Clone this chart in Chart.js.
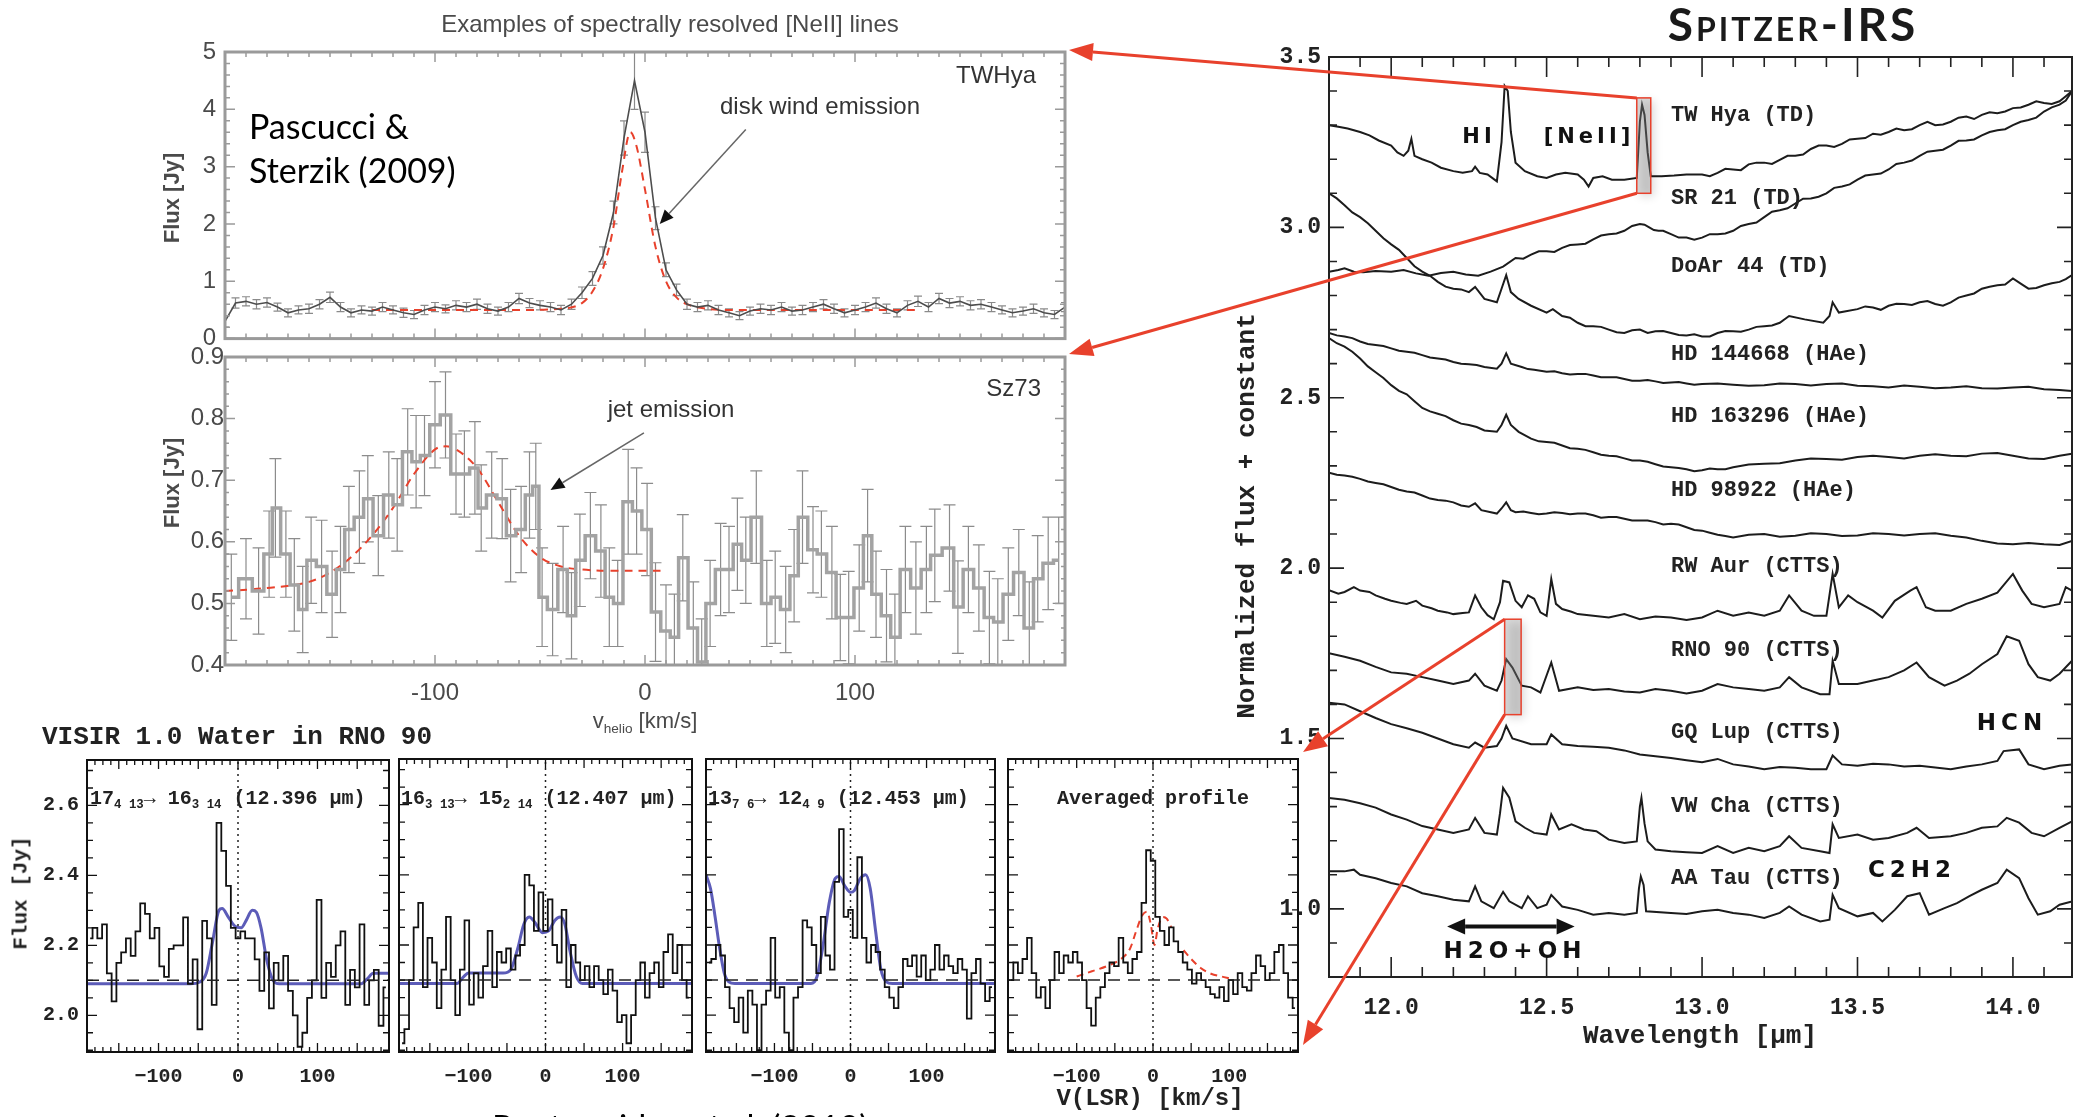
<!DOCTYPE html>
<html>
<head>
<meta charset="utf-8">
<script src="https://cdn.jsdelivr.net/npm/chart.js@4.4.0/dist/chart.umd.min.js"></script>
<style>
  html, body { margin: 0; padding: 0; background: #fff; }
  body { position: relative; width: 2074px; height: 1117px; overflow: hidden; }
  canvas { position: absolute; }
  .t { position: absolute; white-space: nowrap; line-height: 1; z-index: 3; }
  .gray { font-family: "Liberation Sans", Arial, sans-serif; color: #4a4a4a; }
  .mono { font-family: "Liberation Mono", monospace; color: #222; font-weight: bold; }
  .gill { font-family: Lato, sans-serif; color: #000; }
  .mol { font-family: "DejaVu Sans", sans-serif; font-weight: bold; color: #111; }
  .rot { transform: translate(-50%, -50%) rotate(-90deg); }
  .c { transform: translate(-50%, -50%); }
  .l { transform: translate(0, -50%); }
  .r { transform: translate(-100%, -50%); }
  sub { font-size: 62%; vertical-align: -0.35em; line-height: 0; }
</style>
</head>
<body>
<canvas id="cTw" width="1080" height="362" style="left:0;top:0"></canvas>
<canvas id="cSz" width="1080" height="420" style="left:0;top:330px"></canvas>
<canvas id="cV1" width="395" height="377" style="left:0;top:740px"></canvas>
<canvas id="cV2" width="300" height="377" style="left:395px;top:740px"></canvas>
<canvas id="cV3" width="300" height="377" style="left:700px;top:740px"></canvas>
<canvas id="cV4" width="300" height="377" style="left:1003px;top:740px"></canvas>
<canvas id="cSp" width="874" height="1117" style="left:1200px;top:0"></canvas>
<canvas id="overlay" width="2074" height="1117" style="left:0;top:0;z-index:5;pointer-events:none"></canvas>

<!-- [NeII] panels -->
<div class="t gray c" style="left:670px;top:24px;font-size:24px">Examples of spectrally resolved [NeII] lines</div>
<div class="t gray r" style="left:1036px;top:75px;font-size:24px;color:#333">TWHya</div>
<div class="t gray c" style="left:820px;top:106px;font-size:24px;color:#333">disk wind emission</div>
<div class="t gray r" style="left:1041px;top:388px;font-size:24px;color:#333">Sz73</div>
<div class="t gray c" style="left:671px;top:409px;font-size:24px;color:#333">jet emission</div>
<div class="t gill l" style="left:249px;top:126px;font-size:34px">Pascucci &amp;</div>
<div class="t gill l" style="left:249px;top:170px;font-size:34px">Sterzik (2009)</div>
<div class="t gray rot" style="left:172px;top:198px;font-size:22px;font-weight:bold">Flux [Jy]</div>
<div class="t gray rot" style="left:172px;top:483px;font-size:22px;font-weight:bold">Flux [Jy]</div>
<div class="t gray c" style="left:645px;top:721px;font-size:22px">v<sub>helio</sub> [km/s]</div>

<!-- VISIR panels -->
<div class="t mono l" style="left:42px;top:737px;font-size:26px">VISIR 1.0 Water in RNO 90</div>
<div class="t mono l" style="left:90px;top:799px;font-size:20px">17<sub>4 13</sub>→ 16<sub>3 14</sub> (12.396 μm)</div>
<div class="t mono l" style="left:401px;top:799px;font-size:20px">16<sub>3 13</sub>→ 15<sub>2 14</sub> (12.407 μm)</div>
<div class="t mono l" style="left:708px;top:799px;font-size:20px">13<sub>7 6</sub>→ 12<sub>4 9</sub> (12.453 μm)</div>
<div class="t mono c" style="left:1153px;top:799px;font-size:20px">Averaged profile</div>
<div class="t mono rot" style="left:21px;top:893px;font-size:21px">Flux [Jy]</div>
<div class="t mono c" style="left:1150px;top:1099px;font-size:24px">V(LSR) [km/s]</div>
<div class="t gill" style="left:492px;top:1110px;font-size:34px;line-height:34px">Pontoppidan et al. (2010)</div>

<!-- Spitzer panel -->
<div class="t gill c" style="left:1793px;top:24px;font-size:46px;font-weight:bold;font-variant:small-caps;letter-spacing:3px;color:#1a1a1a">Spitzer-IRS</div>
<div class="t mono l" style="left:1671px;top:116px;font-size:22px">TW Hya (TD)</div>
<div class="t mono l" style="left:1671px;top:199px;font-size:22px">SR 21 (TD)</div>
<div class="t mono l" style="left:1671px;top:267px;font-size:22px">DoAr 44 (TD)</div>
<div class="t mono l" style="left:1671px;top:355px;font-size:22px">HD 144668 (HAe)</div>
<div class="t mono l" style="left:1671px;top:417px;font-size:22px">HD 163296 (HAe)</div>
<div class="t mono l" style="left:1671px;top:491px;font-size:22px">HD 98922 (HAe)</div>
<div class="t mono l" style="left:1671px;top:567px;font-size:22px">RW Aur (CTTS)</div>
<div class="t mono l" style="left:1671px;top:651px;font-size:22px">RNO 90 (CTTS)</div>
<div class="t mono l" style="left:1671px;top:733px;font-size:22px">GQ Lup (CTTS)</div>
<div class="t mono l" style="left:1671px;top:807px;font-size:22px">VW Cha (CTTS)</div>
<div class="t mono l" style="left:1671px;top:879px;font-size:22px">AA Tau (CTTS)</div>
<div class="t mol c" style="left:1479px;top:136px;font-size:21px;letter-spacing:4px">HI</div>
<div class="t mol c" style="left:1589px;top:136px;font-size:21px;letter-spacing:4px">[NeII]</div>
<div class="t mol c" style="left:2012px;top:722px;font-size:23px;letter-spacing:5px">HCN</div>
<div class="t mol c" style="left:1912px;top:869px;font-size:23px;letter-spacing:5px">C2H2</div>
<div class="t mol c" style="left:1515px;top:950px;font-size:23px;letter-spacing:5px">H2O+OH</div>
<div class="t mono c" style="left:1700px;top:1036px;font-size:26px">Wavelength [μm]</div>
<div class="t mono rot" style="left:1247px;top:516px;font-size:26px">Normalized flux + constant</div>

<script>
// ---------- [NeII] line profiles (velocity km/s, flux Jy, error Jy) ----------
const twHyaData = [
  [-200,0.30,0.10],[-195,0.62,0.09],[-190,0.65,0.08],[-185,0.60,0.08],[-180,0.63,0.08],[-175,0.55,0.07],
  [-170,0.45,0.07],[-165,0.50,0.07],[-160,0.52,0.08],[-155,0.60,0.08],[-150,0.72,0.09],[-145,0.55,0.08],
  [-140,0.45,0.07],[-135,0.50,0.07],[-130,0.48,0.07],[-125,0.55,0.08],[-120,0.50,0.07],[-115,0.45,0.08],
  [-110,0.42,0.07],[-105,0.50,0.08],[-100,0.55,0.08],[-95,0.52,0.07],[-90,0.58,0.08],[-85,0.55,0.08],
  [-80,0.60,0.09],[-75,0.52,0.08],[-70,0.48,0.07],[-65,0.55,0.08],[-60,0.70,0.09],[-55,0.62,0.08],
  [-50,0.58,0.08],[-45,0.55,0.08],[-40,0.50,0.08],[-35,0.60,0.09],[-30,0.80,0.10],[-25,1.05,0.12],
  [-20,1.45,0.15],[-15,2.20,0.20],[-10,3.50,0.30],[-5,4.50,0.50],[0,3.60,0.35],[5,2.10,0.20],
  [10,1.20,0.12],[15,0.85,0.10],[20,0.60,0.09],[25,0.55,0.08],[30,0.58,0.08],[35,0.50,0.08],
  [40,0.45,0.07],[45,0.40,0.07],[50,0.48,0.07],[55,0.52,0.08],[60,0.50,0.08],[65,0.55,0.08],
  [70,0.48,0.07],[75,0.50,0.08],[80,0.55,0.08],[85,0.60,0.08],[90,0.52,0.08],[95,0.45,0.07],
  [100,0.50,0.08],[105,0.55,0.08],[110,0.62,0.09],[115,0.52,0.08],[120,0.45,0.07],[125,0.58,0.08],
  [130,0.65,0.09],[135,0.55,0.08],[140,0.70,0.09],[145,0.62,0.08],[150,0.65,0.08],[155,0.58,0.08],
  [160,0.60,0.08],[165,0.55,0.08],[170,0.50,0.07],[175,0.45,0.07],[180,0.48,0.07],[185,0.52,0.08],
  [190,0.45,0.07],[195,0.42,0.07],[200,0.55,0.08]
];
const twHyaFit = [
  [-130,0.50],[-100,0.50],[-60,0.50],[-40,0.52],[-30,0.62],[-25,0.82],[-20,1.22],[-15,1.95],[-11,2.90],
  [-7,3.60],[-4,3.35],[0,2.60],[5,1.60],[10,1.00],[15,0.72],[20,0.60],[30,0.52],[40,0.50],[60,0.50],
  [100,0.50],[130,0.50]
];
const sz73Data = [
  [-197,0.51,0.07],[-190,0.54,0.065],[-184,0.52,0.07],[-179,0.58,0.07],[-176,0.655,0.08],[-171,0.58,0.07],
  [-167,0.53,0.075],[-163,0.49,0.07],[-159,0.57,0.07],[-154,0.56,0.075],[-149,0.515,0.07],[-145,0.555,0.07],
  [-141,0.62,0.07],[-136,0.64,0.075],[-132,0.67,0.07],[-127,0.61,0.065],[-122,0.676,0.07],[-118,0.66,0.075],
  [-113,0.746,0.07],[-109,0.73,0.075],[-105,0.74,0.065],[-100,0.79,0.07],[-95,0.806,0.07],[-90,0.71,0.065],
  [-86,0.71,0.07],[-81,0.72,0.075],[-78,0.655,0.07],[-73,0.676,0.07],[-68,0.67,0.065],[-64,0.61,0.075],
  [-59,0.62,0.07],[-55,0.676,0.07],[-52,0.69,0.07],[-49,0.51,0.08],[-44,0.49,0.075],[-39,0.555,0.07],
  [-35,0.48,0.07],[-31,0.57,0.075],[-26,0.61,0.07],[-21,0.585,0.075],[-17,0.51,0.08],[-13,0.50,0.07],
  [-8,0.665,0.085],[-4,0.65,0.07],[1,0.62,0.075],[5,0.486,0.08],[10,0.455,0.075],[14,0.445,0.07],
  [18,0.574,0.07],[23,0.46,0.075],[27,0.405,0.07],[31,0.50,0.07],[36,0.555,0.075],[40,0.555,0.07],
  [44,0.596,0.075],[48,0.57,0.07],[53,0.64,0.075],[58,0.50,0.07],[62,0.51,0.075],[67,0.49,0.07],
  [71,0.545,0.075],[75,0.64,0.075],[80,0.587,0.07],[84,0.58,0.07],[89,0.55,0.075],[93,0.477,0.07],
  [97,0.477,0.075],[102,0.525,0.07],[106,0.61,0.075],[110,0.515,0.07],[115,0.48,0.075],[119,0.445,0.07],
  [124,0.555,0.07],[129,0.525,0.075],[134,0.555,0.07],[138,0.578,0.075],[145,0.59,0.07],[149,0.494,0.075],
  [154,0.555,0.07],[159,0.525,0.07],[164,0.477,0.075],[168,0.47,0.07],[173,0.515,0.075],[178,0.55,0.07],
  [183,0.46,0.075],[187,0.54,0.07],[192,0.565,0.075],[197,0.57,0.07]
];
const sz73Fit = [
  [-200,0.52],[-180,0.525],[-160,0.535],[-150,0.55],[-140,0.575],[-130,0.61],[-120,0.655],[-110,0.71],
  [-100,0.75],[-95,0.755],[-90,0.75],[-80,0.72],[-70,0.665],[-60,0.61],[-50,0.575],[-40,0.56],
  [-30,0.555],[-10,0.553],[10,0.553]
];

// ---------- VISIR water lines in RNO 90 ----------
const visirVel = [
  -186,-180,-174,-168,-162,-156,-150,-144,-138,-132,-126,-120,-114,-108,-102,-96,-90,-84,-78,-72,-66,
  -60,-54,-48,-42,-36,-30,-24,-18,-12,-6,0,6,12,18,24,30,36,42,48,54,60,66,72,78,84,90,96,102,108,
  114,120,126,132,138,144,150,156,162,168,174,180,186
];
const visirLine1 = [
  2.22,2.25,2.22,2.26,2.12,2.04,2.15,2.18,2.22,2.17, 2.24,2.32,2.29,2.22,2.25,2.14,2.11,2.19,2.20,2.20,
  2.28,2.09,2.16,1.96,2.27,2.22,2.03,2.55,2.47,2.37, 2.25,2.22,2.24,2.22,2.22,2.16,2.07,2.18,2.02,2.15,
  2.10,2.17,2.07,2.00,1.91,1.95,2.05,2.10,2.33,2.05, 2.15,2.11,2.20,2.24,2.03,2.13,2.08,2.26,2.03,2.10,
  2.13,1.97,2.08
];
const visirLine2 = [
  1.92,1.96,2.10,2.25,2.32,2.08,2.22,2.15,2.02,2.13, 2.28,2.10,2.00,2.13,2.27,2.03,2.12,2.05,2.14,2.24,
  2.08,2.18,2.15,2.19,2.13,2.17,2.20,2.40,2.37,2.24, 2.35,2.24,2.33,2.20,2.15,2.30,2.08,2.20,2.15,2.10,
  2.14,2.08,2.14,2.10,2.06,2.13,2.07,1.98,2.00,1.92, 2.00,2.10,2.15,2.05,2.12,2.15,2.08,2.18,2.23,2.12,
  2.20,2.10,2.05
];
const visirLine3 = [
  2.15,2.16,2.20,2.17,2.08,2.02,1.98,2.05,1.95,2.07, 2.03,1.90,2.03,2.07,2.22,2.05,2.08,1.95,1.90,2.05,
  2.08,2.27,2.25,2.20,2.12,2.28,2.17,2.13,2.38,2.53, 2.28,2.30,2.22,2.45,2.22,2.15,2.20,2.18,2.13,2.08,
  2.05,2.02,2.08,2.16,2.14,2.17,2.11,2.17,2.10,2.13, 2.20,2.13,2.17,2.14,2.12,2.16,2.13,1.99,2.12,2.16,
  2.09,2.04,2.08
];
const visirAverage = [
  2.10,2.15,2.12,2.16,2.22,2.12,2.05,2.08,2.02,2.10, 2.18,2.12,2.17,2.15,2.18,2.15,2.10,2.02,1.97,2.05,
  2.08,2.12,2.15,2.14,2.22,2.15,2.12,2.16,2.18,2.32, 2.47,2.44,2.28,2.24,2.20,2.25,2.21,2.18,2.15,2.13,
  2.09,2.12,2.10,2.08,2.06,2.05,2.08,2.04,2.10,2.06, 2.12,2.08,2.07,2.12,2.17,2.14,2.10,2.12,2.18,2.20,
  2.12,2.05,2.02
];
const diskModel1 = [
  [-190,2.09],[-60,2.09],[-48,2.095],[-40,2.12],[-32,2.21],[-24,2.30],[-20,2.305],[-12,2.28],[-4,2.255],
  [4,2.25],[10,2.27],[18,2.30],[23,2.295],[29,2.25],[36,2.16],[44,2.10],[52,2.09],[155,2.09],[163,2.105],
  [170,2.12],[190,2.12]
];
const diskModel2 = [
  [-190,2.09],[-115,2.09],[-106,2.11],[-100,2.12],[-55,2.12],[-45,2.13],[-36,2.19],[-28,2.26],[-21,2.28],
  [-14,2.265],[-4,2.235],[4,2.24],[12,2.27],[19,2.28],[25,2.26],[32,2.18],[40,2.11],[48,2.09],[190,2.09]
];
const diskModel3 = [
  [-190,2.40],[-184,2.36],[-178,2.28],[-172,2.19],[-166,2.12],[-160,2.095],[-152,2.09],[-52,2.09],
  [-44,2.11],[-36,2.20],[-28,2.32],[-20,2.39],[-15,2.395],[-8,2.37],[0,2.35],[5,2.355],[13,2.39],
  [20,2.40],[26,2.36],[33,2.24],[40,2.13],[47,2.095],[55,2.09],[190,2.09]
];
// averaged-profile model, drawn as two separate pieces
const averageModelCore = [
  [-100,2.11],[-80,2.125],[-60,2.14],[-42,2.16],[-30,2.19],[-22,2.24],[-14,2.285],[-8,2.295],[-3,2.26],
  [2,2.20],[6,2.245],[13,2.28],[18,2.275],[24,2.25]
];
const averageModelWing = [[40,2.185],[50,2.16],[62,2.135],[76,2.118],[90,2.11],[100,2.105]];
const visirContinuum = 2.1;

// ---------- Spitzer-IRS spectra (wavelength um, normalized flux + constant) ----------
const twHya = [
  [11.80,3.30],[11.83,3.295],[11.86,3.29],[11.90,3.28],[11.93,3.27],[11.96,3.255],[12.00,3.24],[12.02,3.22],
  [12.04,3.21],[12.055,3.225],[12.065,3.26],[12.075,3.21],[12.10,3.20],[12.13,3.19],[12.16,3.175],[12.20,3.165],
  [12.23,3.16],[12.26,3.165],[12.27,3.178],[12.285,3.16],[12.31,3.155],[12.34,3.135],[12.355,3.25],[12.365,3.415],
  [12.375,3.40],[12.385,3.28],[12.40,3.19],[12.43,3.165],[12.47,3.15],[12.50,3.145],[12.53,3.155],[12.56,3.16],
  [12.60,3.155],[12.62,3.14],[12.635,3.12],[12.65,3.145],[12.68,3.15],[12.71,3.14],[12.75,3.14],[12.79,3.145],
  [12.80,3.31],[12.807,3.36],[12.815,3.33],[12.825,3.22],[12.835,3.15],[12.87,3.15],[12.91,3.152],[12.95,3.155],
  [13.00,3.155],[13.05,3.16],[13.10,3.17],[13.15,3.185],[13.20,3.19],[13.25,3.198],[13.30,3.21],[13.35,3.23],
  [13.40,3.24],[13.45,3.245],[13.50,3.26],[13.55,3.275],[13.60,3.28],[13.65,3.285],[13.70,3.30],[13.75,3.30],
  [13.80,3.31],[13.85,3.325],[13.90,3.33],[13.95,3.335],[14.00,3.35],[14.05,3.36],[14.10,3.365],[14.15,3.37],
  [14.19,3.40]
];
const twHyaRipple = [
  [13.025,3.150],[13.075,3.172],[13.125,3.168],[13.175,3.190],[13.225,3.186],[13.275,3.210],[13.325,3.214],
  [13.375,3.240],[13.425,3.236],[13.475,3.258],[13.525,3.262],[13.575,3.272],[13.625,3.290],[13.675,3.288],
  [13.725,3.310],[13.775,3.302],[13.825,3.322],[13.875,3.318],[13.925,3.338],[13.975,3.340],[14.025,3.352],
  [14.075,3.370],[14.125,3.362],[14.17,3.385]
];
const sr21 = [
  [11.80,2.87],[11.83,2.875],[11.85,2.88],[11.88,2.87],[11.91,2.868],[11.95,2.872],[12.00,2.87],[12.04,2.875],
  [12.08,2.865],[12.12,2.858],[12.16,2.866],[12.20,2.87],[12.24,2.862],[12.28,2.858],[12.32,2.87],[12.36,2.885],
  [12.40,2.91],[12.45,2.92],[12.50,2.93],[12.55,2.94],[12.60,2.95],[12.65,2.965],[12.70,2.98],[12.75,2.99],
  [12.80,3.01],[12.83,3.00],[12.86,2.99],[12.90,2.98],[12.95,2.97],[13.00,2.97],[13.05,2.98],[13.10,2.99],
  [13.15,3.01],[13.20,3.03],[13.25,3.05],[13.30,3.07],[13.35,3.085],[13.40,3.10],[13.45,3.12],[13.50,3.14],
  [13.55,3.155],[13.60,3.17],[13.65,3.19],[13.70,3.21],[13.75,3.225],[13.80,3.24],[13.85,3.255],[13.90,3.27],
  [13.95,3.285],[14.00,3.30],[14.05,3.315],[14.10,3.34],[14.15,3.36],[14.19,3.40]
];
const sr21Ripple = [
  [12.425,2.908],[12.475,2.930],[12.525,2.928],[12.575,2.948],[12.625,2.952],[12.675,2.976],[12.725,2.982],
  [12.775,3.004],[12.815,3.008],[12.845,2.992],[12.875,2.990],[12.925,2.970],[12.975,2.964],[13.025,2.980],
  [13.075,2.982],[13.125,3.004],[13.175,3.014],[13.225,3.046],[13.275,3.056],[13.325,3.084],[13.375,3.090],
  [13.425,3.116],[13.475,3.126],[13.525,3.152],[13.575,3.158],[13.625,3.186],[13.675,3.196],[13.725,3.222],
  [13.775,3.228],[13.825,3.254],[13.875,3.258],[13.925,3.280],[13.975,3.288],[14.025,3.310],[14.075,3.322],
  [14.125,3.352],[14.17,3.372]
];
const doAr44 = [
  [11.80,3.10],[11.85,3.065],[11.90,3.03],[11.95,2.99],[12.00,2.95],[12.05,2.91],[12.10,2.87],[12.15,2.84],
  [12.20,2.82],[12.25,2.81],[12.27,2.825],[12.30,2.79],[12.34,2.78],[12.355,2.82],[12.37,2.86],[12.385,2.81],
  [12.41,2.79],[12.45,2.77],[12.50,2.75],[12.52,2.76],[12.55,2.74],[12.60,2.72],[12.65,2.71],[12.70,2.70],
  [12.75,2.69],[12.80,2.70],[12.85,2.695],[12.90,2.69],[12.95,2.683],[13.00,2.68],[13.05,2.69],[13.10,2.695],
  [13.15,2.70],[13.20,2.71],[13.25,2.72],[13.28,2.74],[13.33,2.73],[13.39,2.72],[13.41,2.74],[13.42,2.78],
  [13.44,2.75],[13.50,2.76],[13.55,2.765],[13.60,2.77],[13.65,2.775],[13.70,2.78],[13.75,2.775],[13.80,2.78],
  [13.85,2.80],[13.90,2.82],[13.95,2.83],[14.00,2.85],[14.05,2.82],[14.10,2.83],[14.15,2.84],[14.19,2.86]
];
const doAr44Ripple = [
  [11.825,3.085],[11.875,3.044],[11.925,3.012],[11.975,2.968],[12.025,2.934],[12.075,2.886],[12.125,2.858],
  [12.175,2.826],[12.225,2.818],[12.575,2.735],[12.625,2.710],[12.675,2.708],[12.725,2.692],[12.775,2.698],
  [12.825,2.690],[12.875,2.696],[12.925,2.684],[12.975,2.686],[13.025,2.680],[13.075,2.696],[13.125,2.694],
  [13.175,2.708],[13.225,2.712],[13.525,2.768],[13.575,2.758],[13.625,2.776],[13.675,2.772],[13.725,2.784],
  [13.775,2.770],[13.825,2.794],[13.875,2.806],[13.925,2.826],[13.975,2.832],[14.025,2.835],[14.075,2.822],
  [14.125,2.836],[14.17,2.848]
];
const hd144668 = [
  [11.80,2.69],[11.85,2.68],[11.90,2.665],[11.95,2.655],[12.00,2.645],[12.05,2.635],[12.10,2.625],[12.15,2.615],
  [12.20,2.605],[12.25,2.598],[12.30,2.59],[12.34,2.585],[12.355,2.60],[12.37,2.63],[12.385,2.60],[12.42,2.59],
  [12.46,2.582],[12.50,2.576],[12.55,2.572],[12.60,2.57],[12.65,2.565],[12.70,2.56],[12.75,2.555],[12.80,2.55],
  [12.85,2.548],[12.90,2.545],[12.95,2.542],[13.00,2.54],[13.10,2.538],[13.20,2.537],[13.30,2.54],[13.40,2.54],
  [13.50,2.535],[13.60,2.53],[13.70,2.532],[13.80,2.53],[13.90,2.528],[14.00,2.53],[14.10,2.525],[14.19,2.52]
];
const hd144668Ripple = [
  [11.825,2.683],[11.875,2.675],[11.925,2.658],[11.975,2.652],[12.025,2.638],[12.075,2.632],[12.125,2.618],
  [12.175,2.612],[12.225,2.600],[12.275,2.596],[12.44,2.584],[12.525,2.578],[12.575,2.568],[12.625,2.570],
  [12.675,2.560],[12.725,2.560],[12.775,2.550],[12.825,2.552],[12.875,2.543],[12.925,2.546],[12.975,2.538],
  [13.05,2.542],[13.15,2.535],[13.25,2.542],[13.35,2.536],[13.45,2.542],[13.55,2.534],[13.65,2.536],
  [13.75,2.528],[13.85,2.534],[13.95,2.527],[14.05,2.532],[14.15,2.523]
];
const hd163296 = [
  [11.80,2.675],[11.85,2.65],[11.90,2.615],[11.95,2.575],[12.00,2.537],[12.05,2.51],[12.10,2.47],[12.15,2.453],
  [12.20,2.434],[12.25,2.42],[12.30,2.404],[12.34,2.40],[12.355,2.42],[12.37,2.45],[12.385,2.42],[12.41,2.40],
  [12.45,2.38],[12.50,2.37],[12.55,2.36],[12.60,2.35],[12.65,2.34],[12.70,2.33],[12.75,2.322],[12.80,2.316],
  [12.85,2.305],[12.90,2.296],[12.95,2.29],[13.00,2.287],[13.05,2.29],[13.10,2.296],[13.20,2.306],[13.30,2.316],
  [13.40,2.32],[13.50,2.326],[13.60,2.326],[13.70,2.33],[13.80,2.33],[13.90,2.336],[14.00,2.33],[14.10,2.32],
  [14.19,2.336]
];
const hd163296Ripple = [
  [11.825,2.660],[11.875,2.635],[11.925,2.592],[11.975,2.558],[12.025,2.520],[12.075,2.490],[12.125,2.460],
  [12.175,2.446],[12.225,2.424],[12.275,2.414],[12.475,2.372],[12.525,2.368],[12.575,2.352],[12.625,2.347],
  [12.675,2.333],[12.725,2.328],[12.775,2.316],[12.825,2.312],[12.875,2.298],[12.925,2.294],[12.975,2.284],
  [13.025,2.292],[13.075,2.290],[13.15,2.304],[13.25,2.308],[13.35,2.322],[13.45,2.318],[13.55,2.330],
  [13.65,2.322],[13.75,2.334],[13.85,2.328],[13.95,2.338],[14.05,2.322],[14.15,2.330]
];
const hd98922 = [
  [11.80,2.28],[11.85,2.272],[11.90,2.262],[11.95,2.25],[12.00,2.238],[12.05,2.225],[12.10,2.213],[12.15,2.20],
  [12.20,2.193],[12.25,2.18],[12.27,2.19],[12.29,2.17],[12.34,2.16],[12.355,2.175],[12.37,2.193],[12.385,2.17],
  [12.40,2.164],[12.45,2.162],[12.50,2.16],[12.55,2.162],[12.60,2.16],[12.65,2.155],[12.70,2.15],[12.75,2.145],
  [12.80,2.14],[12.85,2.135],[12.90,2.13],[12.95,2.12],[13.00,2.11],[13.05,2.098],[13.10,2.09],[13.20,2.10],
  [13.30,2.095],[13.40,2.10],[13.50,2.096],[13.60,2.10],[13.70,2.10],[13.80,2.095],[13.90,2.08],[14.00,2.07],
  [14.10,2.07],[14.19,2.08]
];
const hd98922Ripple = [
  [11.825,2.274],[11.875,2.268],[11.925,2.254],[11.975,2.246],[12.025,2.230],[12.075,2.222],[12.125,2.204],
  [12.175,2.198],[12.225,2.184],[12.425,2.166],[12.475,2.158],[12.525,2.164],[12.575,2.158],[12.625,2.160],
  [12.675,2.148],[12.725,2.150],[12.775,2.140],[12.825,2.140],[12.875,2.128],[12.925,2.128],[12.975,2.112],
  [13.025,2.104],[13.075,2.094],[13.15,2.098],[13.25,2.092],[13.35,2.102],[13.45,2.094],[13.55,2.102],
  [13.65,2.096],[13.75,2.102],[13.85,2.090],[13.95,2.072],[14.05,2.074],[14.15,2.068]
];
const rwAur = [
  [11.80,1.935],[11.83,1.925],[11.85,1.93],[11.88,1.944],[11.90,1.934],[11.93,1.93],[11.95,1.92],[11.98,1.91],
  [12.00,1.904],[12.03,1.898],[12.05,1.895],[12.08,1.904],[12.10,1.89],[12.13,1.882],[12.15,1.875],[12.18,1.87],
  [12.20,1.865],[12.23,1.868],[12.25,1.87],[12.27,1.92],[12.29,1.885],[12.31,1.862],[12.33,1.85],[12.35,1.90],
  [12.36,1.963],[12.38,1.958],[12.40,1.904],[12.42,1.885],[12.44,1.92],[12.46,1.91],[12.48,1.87],[12.50,1.86],
  [12.515,1.968],[12.53,1.895],[12.55,1.88],[12.58,1.872],[12.60,1.865],[12.65,1.86],[12.70,1.855],[12.75,1.865],
  [12.80,1.85],[12.85,1.858],[12.90,1.855],[12.95,1.848],[13.00,1.855],[13.05,1.875],[13.10,1.86],[13.15,1.87],
  [13.20,1.86],[13.25,1.875],[13.28,1.92],[13.32,1.875],[13.36,1.86],[13.40,1.86],[13.42,1.983],[13.44,1.885],
  [13.47,1.92],[13.50,1.90],[13.55,1.875],[13.58,1.855],[13.62,1.904],[13.67,1.934],[13.69,1.944],[13.72,1.885],
  [13.75,1.875],[13.80,1.875],[13.85,1.895],[13.90,1.91],[13.95,1.928],[14.00,1.983],[14.03,1.934],[14.06,1.895],
  [14.10,1.885],[14.15,1.895],[14.17,1.944],[14.19,1.934]
];
const rno90 = [
  [11.80,1.75],[11.85,1.74],[11.90,1.728],[11.95,1.71],[12.00,1.694],[12.05,1.69],[12.10,1.68],[12.15,1.67],
  [12.20,1.66],[12.25,1.67],[12.27,1.69],[12.30,1.655],[12.34,1.64],[12.355,1.67],[12.37,1.733],[12.39,1.708],
  [12.42,1.655],[12.45,1.65],[12.48,1.635],[12.515,1.723],[12.54,1.64],[12.60,1.65],[12.65,1.642],[12.70,1.645],
  [12.75,1.638],[12.80,1.635],[12.85,1.645],[12.90,1.64],[12.95,1.632],[13.00,1.64],[13.05,1.66],[13.10,1.65],
  [13.15,1.645],[13.20,1.64],[13.25,1.65],[13.28,1.68],[13.32,1.65],[13.38,1.63],[13.41,1.63],[13.42,1.728],
  [13.44,1.66],[13.50,1.66],[13.55,1.67],[13.60,1.68],[13.65,1.70],[13.69,1.723],[13.73,1.68],[13.78,1.655],
  [13.82,1.67],[13.86,1.69],[13.90,1.718],[13.95,1.748],[13.98,1.80],[14.02,1.787],[14.05,1.718],[14.08,1.68],
  [14.12,1.67],[14.15,1.69],[14.19,1.728]
];
const gqLup = [
  [11.80,1.605],[11.85,1.60],[11.90,1.58],[11.95,1.56],[12.00,1.542],[12.05,1.53],[12.10,1.517],[12.15,1.50],
  [12.20,1.483],[12.25,1.473],[12.27,1.488],[12.30,1.473],[12.34,1.478],[12.355,1.50],[12.37,1.537],[12.39,1.50],
  [12.45,1.483],[12.50,1.483],[12.515,1.512],[12.55,1.483],[12.60,1.478],[12.65,1.476],[12.70,1.473],[12.75,1.465],
  [12.80,1.453],[12.85,1.448],[12.90,1.443],[12.95,1.436],[13.00,1.43],[13.05,1.44],[13.10,1.424],[13.15,1.418],
  [13.20,1.41],[13.25,1.416],[13.30,1.414],[13.35,1.41],[13.40,1.41],[13.42,1.45],[13.45,1.424],[13.50,1.42],
  [13.55,1.426],[13.60,1.424],[13.65,1.418],[13.70,1.42],[13.75,1.415],[13.80,1.41],[13.85,1.418],[13.90,1.424],
  [13.95,1.434],[13.97,1.463],[14.02,1.468],[14.05,1.424],[14.10,1.41],[14.15,1.42],[14.19,1.424]
];
const vwCha = [
  [11.80,1.325],[11.85,1.32],[11.90,1.31],[11.95,1.297],[12.00,1.277],[12.05,1.262],[12.10,1.243],[12.15,1.233],
  [12.20,1.223],[12.25,1.233],[12.27,1.267],[12.30,1.223],[12.34,1.218],[12.35,1.28],[12.36,1.355],[12.38,1.326],
  [12.40,1.257],[12.43,1.238],[12.46,1.223],[12.50,1.218],[12.515,1.277],[12.54,1.233],[12.58,1.248],[12.62,1.233],
  [12.66,1.228],[12.70,1.203],[12.75,1.193],[12.79,1.198],[12.80,1.30],[12.805,1.326],[12.815,1.25],[12.825,1.198],
  [12.85,1.174],[12.90,1.169],[12.95,1.166],[13.00,1.164],[13.05,1.184],[13.10,1.164],[13.15,1.179],[13.20,1.169],
  [13.25,1.184],[13.28,1.213],[13.32,1.179],[13.38,1.169],[13.41,1.164],[13.42,1.248],[13.44,1.208],[13.50,1.218],
  [13.55,1.203],[13.60,1.208],[13.66,1.223],[13.69,1.238],[13.73,1.208],[13.80,1.213],[13.85,1.223],[13.90,1.238],
  [13.95,1.242],[13.98,1.267],[14.02,1.253],[14.06,1.223],[14.10,1.213],[14.15,1.238],[14.19,1.257]
];
const aaTau = [
  [11.80,1.11],[11.85,1.11],[11.88,1.115],[11.90,1.10],[11.95,1.09],[12.00,1.076],[12.05,1.066],[12.10,1.046],
  [12.15,1.037],[12.20,1.027],[12.25,1.022],[12.27,1.066],[12.29,1.022],[12.33,1.002],[12.36,1.05],[12.38,1.022],
  [12.42,1.002],[12.44,1.037],[12.47,1.002],[12.50,1.012],[12.515,1.041],[12.55,1.007],[12.60,0.997],[12.65,0.983],
  [12.70,0.988],[12.75,0.983],[12.79,0.988],[12.797,1.06],[12.803,1.095],[12.812,1.07],[12.82,0.993],[12.90,0.988],
  [12.95,0.985],[13.00,0.993],[13.05,0.997],[13.10,0.988],[13.15,0.983],[13.20,0.973],[13.25,0.988],[13.28,1.007],
  [13.32,0.983],[13.38,0.963],[13.41,0.968],[13.42,1.041],[13.44,1.002],[13.50,0.978],[13.55,0.988],[13.58,0.963],
  [13.62,0.997],[13.66,1.037],[13.70,1.046],[13.73,0.983],[13.78,1.002],[13.82,1.017],[13.86,1.037],[13.90,1.056],
  [13.95,1.076],[13.98,1.115],[14.02,1.09],[14.05,1.031],[14.08,0.983],[14.12,0.993],[14.15,1.012],[14.19,1.022]
];
const spitzerSpectra = [
  [twHya, twHyaRipple], [sr21, sr21Ripple], [doAr44, doAr44Ripple], [hd144668, hd144668Ripple],
  [hd163296, hd163296Ripple], [hd98922, hd98922Ripple], [rwAur, []], [rno90, []], [gqLup, []], [vwCha, []], [aaTau, []]
];

// zoom windows [wlMin, wlMax, fluxMin, fluxMax] and the H2O+OH range
const neonBox = [12.79, 12.835, 3.10, 3.38];
const rnoBox = [12.365, 12.418, 1.57, 1.85];
const waterRange = [12.18, 12.59, 0.948];

// tick labels
const fluxTicksTw = [0, 1, 2, 3, 4, 5];
const fluxTicksSz = [0.4, 0.5, 0.6, 0.7, 0.8, 0.9];
const velTicks = [-100, 0, 100];
const visirFluxTicks = [2.0, 2.2, 2.4, 2.6];
const wlTicks = [12.0, 12.5, 13.0, 13.5, 14.0];
const specTicks = [1.0, 1.5, 2.0, 2.5, 3.0, 3.5];

// ---------- helpers ----------
const SANS = '"Liberation Sans", Arial, sans-serif';
const MONO = '"Liberation Mono", monospace';
const RED = '#e8412c';
const pairs = arr => arr.map(p => ({ x: p[0], y: p[1] }));
const series = (xs, ys) => xs.map((x, i) => ({ x, y: ys[i] }));
const merged = (a, b) => pairs(a.concat(b).sort((p, q) => p[0] - q[0]));

function tickValues(min, max, minor, major) {
  const out = [];
  for (let k = Math.ceil(min / minor - 1e-6); k * minor <= max + 1e-6; k++) {
    const v = k * minor, r = v / major;
    out.push([v, Math.abs(r - Math.round(r)) < 1e-6]);
  }
  return out;
}

// IDL style box with inward ticks on all four sides
function framePlugin(o) {
  return {
    id: 'frame',
    afterDraw(chart) {
      const { ctx, chartArea: a, scales: { x, y } } = chart;
      ctx.save();
      ctx.strokeStyle = o.color;
      ctx.lineWidth = o.tickWidth;
      ctx.beginPath();
      for (const [v, major] of tickValues(x.min, x.max, o.xMinor, o.xMajor)) {
        const p = x.getPixelForValue(v), len = major ? o.xLen[0] : o.xLen[1];
        ctx.moveTo(p, a.bottom); ctx.lineTo(p, a.bottom - len);
        ctx.moveTo(p, a.top); ctx.lineTo(p, a.top + len);
      }
      for (const [v, major] of tickValues(y.min, y.max, o.yMinor, o.yMajor)) {
        const p = y.getPixelForValue(v), len = major ? o.yLen[0] : o.yLen[1];
        ctx.moveTo(a.left, p); ctx.lineTo(a.left + len, p);
        ctx.moveTo(a.right, p); ctx.lineTo(a.right - len, p);
      }
      ctx.stroke();
      ctx.lineWidth = o.width;
      ctx.strokeRect(a.left, a.top, a.right - a.left, a.bottom - a.top);
      ctx.restore();
    }
  };
}

function errorBarPlugin(color, cap) {
  return {
    id: 'errorBars',
    beforeDatasetsDraw(chart) {
      const { ctx, chartArea: a, scales: { y } } = chart;
      ctx.save();
      ctx.beginPath();
      ctx.rect(a.left, a.top, a.right - a.left, a.bottom - a.top);
      ctx.clip();
      ctx.strokeStyle = color;
      ctx.lineWidth = 1.2;
      ctx.beginPath();
      chart.data.datasets.forEach((ds, i) => {
        if (!ds.errors) return;
        chart.getDatasetMeta(i).data.forEach((pt, j) => {
          const v = ds.data[j].y, e = ds.errors[j];
          const t = y.getPixelForValue(v + e), b = y.getPixelForValue(v - e);
          ctx.moveTo(pt.x, t); ctx.lineTo(pt.x, b);
          ctx.moveTo(pt.x - cap, t); ctx.lineTo(pt.x + cap, t);
          ctx.moveTo(pt.x - cap, b); ctx.lineTo(pt.x + cap, b);
        });
      });
      ctx.stroke();
      ctx.restore();
    }
  };
}

function arrowHead(ctx, from, tip, len, half) {
  const ang = Math.atan2(tip[1] - from[1], tip[0] - from[0]);
  const bx = tip[0] - len * Math.cos(ang), by = tip[1] - len * Math.sin(ang);
  ctx.beginPath();
  ctx.moveTo(tip[0], tip[1]);
  ctx.lineTo(bx + half * Math.sin(ang), by - half * Math.cos(ang));
  ctx.lineTo(bx - half * Math.sin(ang), by + half * Math.cos(ang));
  ctx.closePath();
  ctx.fill();
  return [bx, by];
}

function drawArrow(ctx, p0, p1, s) {
  ctx.save();
  ctx.strokeStyle = s.color;
  ctx.fillStyle = s.headColor || s.color;
  ctx.lineWidth = s.width;
  const end = arrowHead(ctx, p0, p1, s.head, s.half);
  const start = s.both ? arrowHead(ctx, p1, p0, s.head, s.half) : p0;
  ctx.beginPath();
  ctx.moveTo(start[0], start[1]);
  ctx.lineTo(end[0], end[1]);
  ctx.stroke();
  ctx.restore();
}

// arrows given in data coordinates of the chart
function arrowPlugin(list) {
  return {
    id: 'arrows',
    afterDatasetsDraw(chart) {
      const { ctx, scales: { x, y } } = chart;
      list.forEach(a => {
        drawArrow(ctx,
          [x.getPixelForValue(a.from[0]), y.getPixelForValue(a.from[1])],
          [x.getPixelForValue(a.to[0]), y.getPixelForValue(a.to[1])], a);
      });
    }
  };
}

function axis(o) {
  return {
    type: 'linear', min: o.min, max: o.max,
    grid: { display: false, drawTicks: false },
    border: { display: false },
    ticks: {
      display: !!o.ticks, autoSkip: false, maxRotation: 0, minRotation: 0,
      padding: o.pad || 0, color: o.color || '#222',
      font: o.font || { family: SANS, size: 12 },
      callback: o.fmt || (v => String(v))
    },
    afterBuildTicks: s => { if (o.ticks) s.ticks = o.ticks.map(v => ({ value: v })); },
    afterFit: s => { if (s.isHorizontal()) s.height = o.size; else s.width = o.size; }
  };
}

function makeChart(id, c) {
  return new Chart(document.getElementById(id), {
    type: 'line',
    data: { datasets: c.datasets },
    options: {
      responsive: false, animation: false, events: [],
      layout: { padding: c.pad },
      plugins: { legend: { display: false }, tooltip: { enabled: false } },
      elements: { point: { radius: 0 } },
      scales: { x: axis(c.x), y: axis(c.y) }
    },
    plugins: [errorBarPlugin(c.errColor || '#888', c.cap || 5), framePlugin(c.frame), arrowPlugin(c.arrows || [])]
  });
}

// ---------- [NeII] charts ----------
const grayFont = { family: SANS, size: 24 };
const neFrame = { color: '#9a9a9a', width: 3, tickWidth: 1.5, xMinor: 10, xMajor: 100, xLen: [10, 5] };

const twChart = makeChart('cTw', {
  pad: { top: 52, right: 15, left: 0, bottom: 0 },
  x: { min: -200, max: 200, size: 15 },
  y: { min: 0, max: 5, size: 225, ticks: fluxTicksTw, pad: 9, color: '#4a4a4a', font: grayFont },
  frame: Object.assign({}, neFrame, { yMinor: 0.2, yMajor: 1, yLen: [10, 5] }),
  errColor: '#8a8a8a', cap: 4,
  arrows: [{ from: [48, 3.65], to: [7, 2.0], color: '#666', headColor: '#111', width: 1.5, head: 14, half: 6 }],
  datasets: [
    { data: pairs(twHyaData), errors: twHyaData.map(p => p[2]), borderColor: '#4d4d4d', borderWidth: 1.6 },
    { data: pairs(twHyaFit), borderColor: RED, borderWidth: 2, borderDash: [8, 6], cubicInterpolationMode: 'monotone' }
  ]
});

const szChart = makeChart('cSz', {
  pad: { top: 27, right: 15, left: 0, bottom: 0 },
  x: { min: -200, max: 200, size: 85, ticks: velTicks, pad: 14, color: '#4a4a4a', font: grayFont },
  y: { min: 0.4, max: 0.9, size: 225, ticks: fluxTicksSz, pad: 1, color: '#4a4a4a', font: grayFont, fmt: v => v.toFixed(1) },
  frame: Object.assign({}, neFrame, { yMinor: 0.02, yMajor: 0.1, yLen: [10, 4] }),
  errColor: '#8c8c8c', cap: 6,
  arrows: [{ from: [-0.5, 0.777], to: [-45, 0.684], color: '#666', headColor: '#111', width: 1.5, head: 14, half: 6 }],
  datasets: [
    { data: pairs(sz73Data), errors: sz73Data.map(p => p[2]), borderColor: '#a3a3a3', borderWidth: 3.5, stepped: 'middle' },
    { data: pairs(sz73Fit), borderColor: RED, borderWidth: 2, borderDash: [8, 6], cubicInterpolationMode: 'monotone' }
  ]
});

// ---------- VISIR charts ----------
const visirY = { min: 1.895, max: 2.73 };
const monoTick = { family: MONO, size: 20, weight: 'bold' };
const visirFrame = { color: '#111', width: 2, tickWidth: 1.3, xMinor: 10, xMajor: 50, xLen: [9, 5], yMinor: 0.05, yMajor: 0.2, yLen: [10, 6] };
const signed = v => (v < 0 ? '\u2212' + Math.abs(v) : String(v));

function visirPanel(id, leftSize, right, hist, models, modelColor, dashedModel, yLabels) {
  const ds = [
    { data: [{ x: -190, y: visirContinuum }, { x: 190, y: visirContinuum }], borderColor: '#222', borderWidth: 1.5, borderDash: [12, 8] },
    { data: [{ x: 0, y: visirY.min }, { x: 0, y: visirY.max }], borderColor: '#222', borderWidth: 1.5, borderDash: [2, 4] },
    { data: series(visirVel, hist), borderColor: '#111', borderWidth: 1.8, stepped: 'middle' }
  ].concat(models.map(m => ({
    data: pairs(m), borderColor: modelColor, borderWidth: dashedModel ? 2 : 3, borderDash: dashedModel ? [7, 5] : [],
    cubicInterpolationMode: 'monotone'
  })));
  return makeChart(id, {
    pad: { top: 19, right: right, left: 0, bottom: 0 },
    x: { min: -190, max: 190, size: 65, ticks: velTicks, pad: 13, font: monoTick, fmt: signed },
    y: Object.assign({ size: leftSize, pad: 8, font: monoTick, fmt: v => v.toFixed(1) }, visirY, yLabels ? { ticks: visirFluxTicks } : {}),
    frame: visirFrame,
    datasets: ds
  });
}
visirPanel('cV1', 87, 6, visirLine1, [diskModel1], '#5c5cb8', false, true);
visirPanel('cV2', 4, 3, visirLine2, [diskModel2], '#5c5cb8', false, false);
visirPanel('cV3', 6, 5, visirLine3, [diskModel3], '#5c5cb8', false, false);
const avgChart = visirPanel('cV4', 5, 5, visirAverage, [averageModelCore, averageModelWing], RED, true, false);

// ---------- Spitzer-IRS chart ----------
const spMono = { family: MONO, size: 23, weight: 'bold' };
const spitzer = makeChart('cSp', {
  pad: { top: 57, right: 2, left: 0, bottom: 0 },
  x: { min: 11.8, max: 14.19, size: 140, ticks: wlTicks, pad: 17, font: spMono, fmt: v => v.toFixed(1) },
  y: { min: 0.8, max: 3.5, size: 129, ticks: specTicks, pad: 8, font: spMono, fmt: v => v.toFixed(1) },
  frame: { color: '#222', width: 2, tickWidth: 1.6, xMinor: 0.1, xMajor: 0.5, xLen: [20, 10], yMinor: 0.1, yMajor: 0.5, yLen: [15, 8] },
  arrows: [{ from: [waterRange[0], waterRange[2]], to: [waterRange[1], waterRange[2]], color: '#111', width: 4, head: 18, half: 8, both: true }],
  datasets: spitzerSpectra.map(([s, r]) => ({ data: merged(s, r), borderColor: '#1c1c1c', borderWidth: 2 }))
});

// ---------- red zoom boxes and arrows across panels ----------
const octx = document.getElementById('overlay').getContext('2d');
function at(chart, xv, yv) {
  const c = chart.canvas;
  return [c.offsetLeft + chart.scales.x.getPixelForValue(xv), c.offsetTop + chart.scales.y.getPixelForValue(yv)];
}
function corner(chart, h, v) {
  const c = chart.canvas, a = chart.chartArea;
  return [c.offsetLeft + a[h], c.offsetTop + a[v]];
}
function zoomBox(b) {
  const p0 = at(spitzer, b[0], b[3]), p1 = at(spitzer, b[1], b[2]);
  octx.save();
  octx.shadowColor = 'rgba(0,0,0,0.45)';
  octx.shadowBlur = 10;
  octx.shadowOffsetX = 3;
  octx.shadowOffsetY = 3;
  octx.fillStyle = 'rgba(150,150,150,0.35)';
  octx.fillRect(p0[0], p0[1], p1[0] - p0[0], p1[1] - p0[1]);
  octx.restore();
  octx.strokeStyle = RED;
  octx.lineWidth = 1.5;
  octx.strokeRect(p0[0], p0[1], p1[0] - p0[0], p1[1] - p0[1]);
  return { tl: p0, bl: [p0[0], p1[1]] };
}
const redArrow = { color: RED, width: 3, head: 24, half: 9 };
const nb = zoomBox(neonBox);
const tr1 = corner(twChart, 'right', 'top');
const tr2 = corner(szChart, 'right', 'top');
drawArrow(octx, nb.tl, [tr1[0] + 4, tr1[1] - 2], redArrow);
drawArrow(octx, nb.bl, [tr2[0] + 4, tr2[1] - 3], redArrow);
const rb = zoomBox(rnoBox);
const tr3 = corner(avgChart, 'right', 'top');
const br3 = corner(avgChart, 'right', 'bottom');
drawArrow(octx, rb.tl, [tr3[0] + 5, tr3[1] - 7], redArrow);
drawArrow(octx, rb.bl, [br3[0] + 5, br3[1] - 7], redArrow);
</script>
</body>
</html>
